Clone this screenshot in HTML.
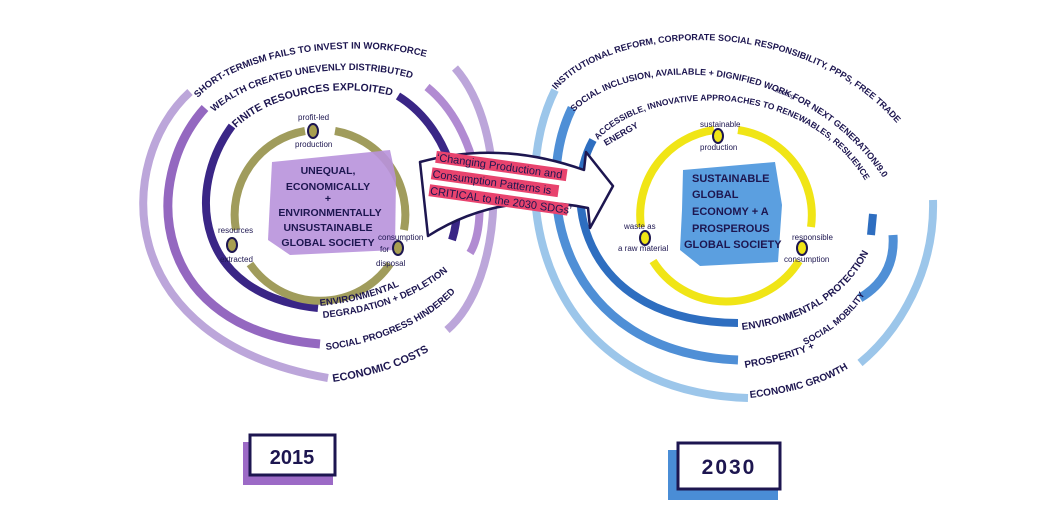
<!DOCTYPE html>
<html><head><meta charset="utf-8"><style>
html,body{margin:0;padding:0;background:#fff;width:1062px;height:509px;overflow:hidden}
svg{display:block}
text{font-family:"Liberation Sans",sans-serif;font-weight:bold;fill:#1d1650;text-transform:uppercase}
.n{font-weight:normal;text-transform:none}
</style></head><body>
<svg width="1062" height="509" viewBox="0 0 1062 509" xmlns="http://www.w3.org/2000/svg">
<defs>
<path id="l1" d="M198,98 C240,50 380,30 462,70"/>
<path id="l2" d="M214,112 C260,70 370,55 436,88"/>
<path id="l3" d="M236,128 C270,95 340,80 400,98"/>
<path id="l4" d="M320,306 C380,300 430,280 458,236"/>
<path id="l4b" d="M323,318 C385,312 438,290 470,248"/>
<path id="l5" d="M326,350 C400,340 450,310 478,262"/>
<path id="l6" d="M333,382 C380,375 425,360 450,335"/>
<path id="r1" d="M556,90 C620,15 870,5 942,200"/>
<path id="r2" d="M574,112 C640,45 860,55 916,250"/>
<path id="r3" d="M598,140 C650,80 840,75 882,220"/>
<path id="r4" d="M742,330 C810,322 855,290 874,240"/>
<path id="r5" d="M745,368 C780,362 800,355 815,348"/>
<path id="r5b" d="M805,345 C835,330 860,310 872,280"/>
<path id="r6" d="M750,398 C800,392 835,380 860,360"/>
</defs>

<g fill="none">
<path d="M190,92 C115,160 110,340 328,378" stroke="#bca6da" stroke-width="8"/>
<path d="M455,68 C510,130 505,280 447,330" stroke="#bca6da" stroke-width="8"/>
<path d="M205,108 C140,180 150,330 320,344" stroke="#9468c0" stroke-width="9"/>
<path d="M427,87 C480,130 490,220 470,253" stroke="#b18bd2" stroke-width="8"/>
<path d="M232,126 C185,190 195,295 318,308" stroke="#3a2686" stroke-width="8"/>
<path d="M398,96 C445,125 468,190 452,240" stroke="#3a2686" stroke-width="8"/>
<path d="M335,131 A85,85 0 0 1 404,230" stroke="#a09c5c" stroke-width="8"/>
<path d="M390,264 A85,85 0 0 1 250,264" stroke="#a09c5c" stroke-width="8"/>
<path d="M236,230 A85,85 0 0 1 305,131" stroke="#a09c5c" stroke-width="8"/>
</g>
<polygon points="272,162 390,150 396,178 395,250 290,255 268,240 270,200" fill="#b892dc" opacity="0.9"/>
<g font-size="10.5" text-anchor="middle">
<text x="328" y="174">Unequal,</text>
<text x="328" y="190">Economically</text>
<text x="328" y="202">+</text>
<text x="330" y="216">Environmentally</text>
<text x="328" y="231">Unsustainable</text>
<text x="328" y="246">Global Society</text>
</g>
<g stroke="#1d1650" stroke-width="2" fill="#a89f50">
<ellipse cx="313" cy="131" rx="5" ry="7"/>
<ellipse cx="232" cy="245" rx="5" ry="7"/>
<ellipse cx="398" cy="248" rx="5" ry="7"/>
</g>
<g font-size="8">
<text class="n" x="298" y="120">profit-led</text>
<text class="n" x="295" y="147">production</text>
<text class="n" x="218" y="233">resources</text>
<text class="n" x="220" y="262">extracted</text>
<text class="n" x="378" y="240">consumption</text>
<text class="n" x="380" y="252">for</text>
<text class="n" x="376" y="266">disposal</text>
</g>
<g font-size="9.5">
<text><textPath href="#l1">Short-termism fails to invest in workforce</textPath></text>
<text><textPath href="#l2">Wealth created unevenly distributed</textPath></text>
<text font-size="10.5"><textPath href="#l3">Finite resources exploited</textPath></text>
<text><textPath href="#l4">Environmental</textPath></text>
<text><textPath href="#l4b">Degradation + depletion</textPath></text>
<text><textPath href="#l5">Social progress hindered</textPath></text>
<text font-size="11"><textPath href="#l6">Economic costs</textPath></text>
</g>

<g fill="none">
<path d="M555,90 C505,190 540,392 748,398" stroke="#9cc6ea" stroke-width="8"/>
<path d="M933,200 C935,270 900,330 860,363" stroke="#9cc6ea" stroke-width="8"/>
<path d="M572,108 C532,190 558,352 738,360" stroke="#4f8fd6" stroke-width="9"/>
<path d="M893,235 C895,265 882,285 860,298" stroke="#4f8fd6" stroke-width="9"/>
<path d="M593,140 C560,200 585,322 738,323" stroke="#2e6ec0" stroke-width="8"/>
<path d="M873,214 L871,235" stroke="#2e6ec0" stroke-width="8"/>
<path d="M738,130 A86,86 0 0 1 811,227" stroke="#f0e516" stroke-width="8"/>
<path d="M799,261 A86,86 0 0 1 653,261" stroke="#f0e516" stroke-width="8"/>
<path d="M641,227 A86,86 0 0 1 714,130" stroke="#f0e516" stroke-width="8"/>
</g>
<polygon points="683,170 775,162 782,205 778,262 700,266 680,250 682,210" fill="#5b9fe0"/>
<g font-size="11">
<text x="692" y="182">Sustainable</text>
<text x="692" y="198">Global</text>
<text x="692" y="215">Economy + A</text>
<text x="692" y="232">Prosperous</text>
<text x="684" y="248">Global Society</text>
</g>
<g stroke="#1d1650" stroke-width="2" fill="#f0e516">
<ellipse cx="718" cy="136" rx="5" ry="7"/>
<ellipse cx="645" cy="238" rx="5" ry="7"/>
<ellipse cx="802" cy="248" rx="5" ry="7"/>
</g>
<g font-size="8">
<text class="n" x="700" y="127">sustainable</text>
<text class="n" x="700" y="150">production</text>
<text class="n" x="624" y="229">waste as</text>
<text class="n" x="618" y="251">a raw material</text>
<text class="n" x="792" y="240">responsible</text>
<text class="n" x="784" y="262">consumption</text>
</g>
<g font-size="9">
<text><textPath href="#r1">Institutional reform, corporate social responsibility, PPPs, free trade</textPath></text>
<text><textPath href="#r2">Social inclusion, available + dignified work for next generation/9.0</textPath></text>
<text font-size="8.5"><textPath href="#r3">Accessible, innovative approaches to renewables, resilience</textPath></text>
<text font-size="10"><textPath href="#r4">Environmental protection</textPath></text>
<text font-size="10"><textPath href="#r5">Prosperity +</textPath></text>
<text font-size="9"><textPath href="#r5b">Social mobility</textPath></text>
<text font-size="10"><textPath href="#r6">Economic growth</textPath></text>
</g>
<text x="606" y="146" font-size="9" transform="rotate(-30 606 146)">Energy</text>
<text x="770" y="90" font-size="6" class="n" transform="rotate(20 770 90)">+ training</text>

<path d="M420,162 Q500,140 584,170 L586,152 L613,186 L590,228 L588,208 Q500,190 428,236 Z" fill="#fff" stroke="#1d1650" stroke-width="2.5" stroke-linejoin="round"/>
<g transform="rotate(8 500 190)">
<rect x="432" y="160" width="132" height="12" fill="#e8436e"/>
<rect x="430" y="177" width="128" height="12" fill="#e8436e"/>
<rect x="430" y="194" width="140" height="12" fill="#e8436e"/>
<g font-size="11">
<text class="n" x="433" y="170">‘Changing Production and</text>
<text class="n" x="431" y="187">Consumption Patterns is</text>
<text class="n" x="431" y="204">CRITICAL to the 2030 SDGs’</text>
</g>
</g>

<rect x="243" y="442" width="90" height="43" fill="#9c6ac6"/>
<rect x="250" y="435" width="85" height="40" fill="#fff" stroke="#1d1650" stroke-width="3"/>
<text x="292" y="464" font-size="20" text-anchor="middle">2015</text>
<rect x="668" y="450" width="110" height="50" fill="#4a8dd6"/>
<rect x="678" y="443" width="102" height="46" fill="#fff" stroke="#1d1650" stroke-width="3"/>
<text x="729" y="474" font-size="21" text-anchor="middle" letter-spacing="2">2030</text>
</svg>
</body></html>
